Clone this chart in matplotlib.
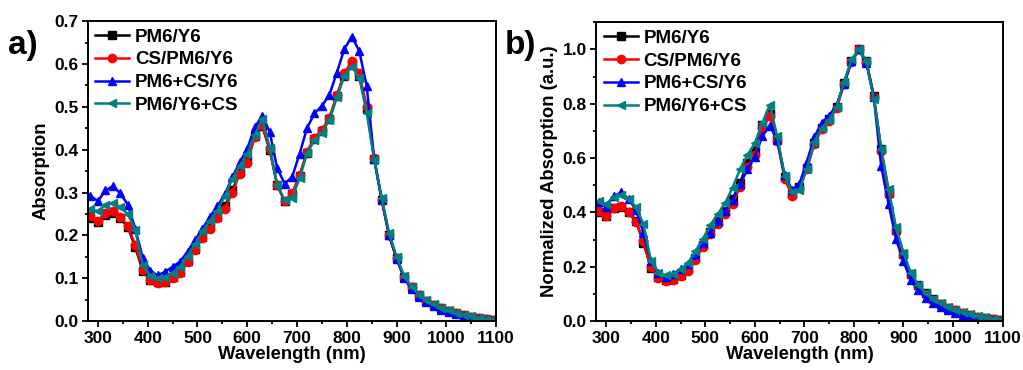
import numpy as np
import matplotlib
matplotlib.use("Agg")
import matplotlib.pyplot as plt
from matplotlib.ticker import MultipleLocator

plt.rcParams["font.family"] = ["Liberation Sans", "DejaVu Sans"]
plt.rcParams["font.weight"] = "bold"

# wavelength grid (nm)
wavelength = [285, 300, 315, 330, 345, 360, 375, 390, 405, 420, 435, 450, 465, 480,
              495, 510, 525, 540, 555, 570, 585, 600, 615, 630, 645, 660, 675, 690,
              705, 720, 735, 750, 765, 780, 795, 810, 825, 840, 855, 870, 885, 900,
              915, 930, 945, 960, 975, 990, 1005, 1020, 1035, 1050, 1065, 1080, 1095]

pm6_y6 = [0.240, 0.232, 0.248, 0.252, 0.240, 0.220, 0.172, 0.118, 0.097, 0.091, 0.092, 0.102, 0.115, 0.140,
          0.168, 0.196, 0.220, 0.243, 0.268, 0.305, 0.347, 0.375, 0.432, 0.455, 0.400, 0.318, 0.280, 0.296,
          0.338, 0.393, 0.426, 0.444, 0.472, 0.525, 0.573, 0.598, 0.572, 0.496, 0.378, 0.283, 0.200, 0.147,
          0.104, 0.079, 0.061, 0.048, 0.038, 0.030, 0.024, 0.018, 0.014, 0.010, 0.007, 0.004, 0.002]

cs_pm6_y6 = [0.245, 0.234, 0.253, 0.257, 0.243, 0.222, 0.178, 0.120, 0.097, 0.089, 0.091, 0.100, 0.112, 0.137,
             0.166, 0.194, 0.216, 0.240, 0.262, 0.300, 0.344, 0.370, 0.430, 0.457, 0.402, 0.318, 0.280, 0.298,
             0.340, 0.395, 0.428, 0.446, 0.475, 0.528, 0.578, 0.606, 0.578, 0.500, 0.380, 0.283, 0.200, 0.147,
             0.104, 0.079, 0.061, 0.048, 0.038, 0.030, 0.024, 0.018, 0.014, 0.010, 0.007, 0.004, 0.002]

pm6_cs_y6 = [0.292, 0.280, 0.305, 0.315, 0.298, 0.272, 0.215, 0.148, 0.118, 0.107, 0.115, 0.127, 0.139, 0.162,
             0.190, 0.215, 0.244, 0.268, 0.296, 0.336, 0.371, 0.402, 0.452, 0.478, 0.442, 0.357, 0.321, 0.336,
             0.390, 0.450, 0.485, 0.502, 0.528, 0.580, 0.635, 0.664, 0.630, 0.548, 0.378, 0.286, 0.200, 0.146,
             0.100, 0.075, 0.057, 0.044, 0.035, 0.027, 0.021, 0.016, 0.012, 0.008, 0.005, 0.003, 0.001]

pm6_y6_cs = [0.262, 0.256, 0.272, 0.276, 0.266, 0.250, 0.212, 0.132, 0.106, 0.100, 0.103, 0.113, 0.127, 0.153,
             0.180, 0.210, 0.234, 0.258, 0.292, 0.332, 0.363, 0.389, 0.434, 0.472, 0.405, 0.318, 0.282, 0.287,
             0.333, 0.392, 0.422, 0.440, 0.469, 0.522, 0.572, 0.594, 0.568, 0.486, 0.377, 0.288, 0.205, 0.150,
             0.105, 0.080, 0.062, 0.049, 0.039, 0.031, 0.025, 0.019, 0.015, 0.011, 0.008, 0.005, 0.003]

labels = ["PM6/Y6", "CS/PM6/Y6", "PM6+CS/Y6", "PM6/Y6+CS"]
series = [pm6_y6, cs_pm6_y6, pm6_cs_y6, pm6_y6_cs]
colors = ["black", "#ff0000", "#0000ff", "#008080"]
markers = ["s", "o", "^", "<"]

fig = plt.figure(figsize=(10.23, 3.70), dpi=100)
ax1 = fig.add_axes([0.086, 0.132, 0.399, 0.811])
ax2 = fig.add_axes([0.583, 0.132, 0.397, 0.808])

for ax, norm in [(ax1, False), (ax2, True)]:
    for y, lab, c, m in zip(series, labels, colors, markers):
        y = np.array(y)
        if norm:
            y = y / y.max()  # normalised to the 810 nm peak
        ax.plot(wavelength, y, color=c, marker=m, markersize=6, lw=1.8,
                markeredgecolor=c, label=lab)
    ax.set_xlim(280, 1100)
    ax.xaxis.set_major_locator(MultipleLocator(100))
    ax.xaxis.set_minor_locator(MultipleLocator(50))
    ax.tick_params(which="both", direction="out", top=False, right=False,
                   labelsize=12.5, width=1.3, pad=2.5)
    ax.tick_params(which="major", length=4.5)
    ax.tick_params(which="minor", length=2.5)
    for s in ax.spines.values():
        s.set_linewidth(1.4)
    ax.set_xlabel("Wavelength (nm)", fontsize=13.3, fontweight="bold", labelpad=0)
    ax.legend(loc="upper left", frameon=False, handlelength=1.8,
              labelspacing=0.3, handletextpad=0.3, borderaxespad=0.1,
              borderpad=0.3, prop={"weight": "bold", "size": 13.5})

ax1.set_ylim(0, 0.7)
ax1.yaxis.set_major_locator(MultipleLocator(0.1))
ax1.yaxis.set_minor_locator(MultipleLocator(0.05))
ax1.set_ylabel("Absorption", fontsize=13.3, fontweight="bold", labelpad=3)

ax2.set_ylim(0, 1.1)
ax2.yaxis.set_major_locator(MultipleLocator(0.2))
ax2.yaxis.set_minor_locator(MultipleLocator(0.1))
ax2.set_ylabel("Normalized Absorption (a.u.)", fontsize=13.3, fontweight="bold", labelpad=3)

for ax in (ax1, ax2):
    for t in ax.get_xticklabels() + ax.get_yticklabels():
        t.set_fontweight("bold")

fig.text(0.008, 0.855, "a)", fontsize=24, fontweight="bold")
fig.text(0.493, 0.855, "b)", fontsize=24, fontweight="bold")

fig.savefig("out.png", dpi=100)
